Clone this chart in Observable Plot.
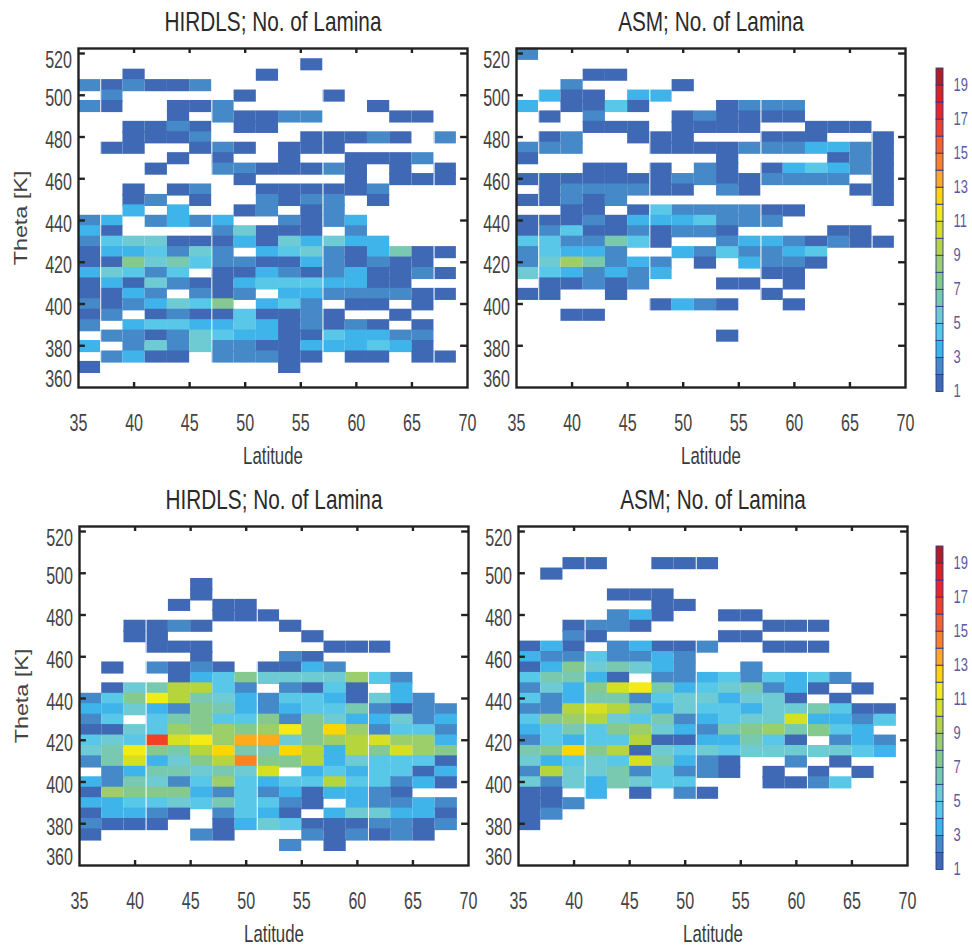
<!DOCTYPE html>
<html>
<head>
<meta charset="utf-8">
<script src="https://cdn.jsdelivr.net/npm/d3@7"></script>
<script src="https://cdn.jsdelivr.net/npm/@observablehq/plot@0.6"></script>
<style>
html,body{margin:0;padding:0;background:#fff;}
#chart{position:relative;width:972px;height:947px;overflow:hidden;}
#chart svg{position:absolute;overflow:visible;}
</style>
</head>
<body>
<div id="chart"></div>
<script>
const levels = [1,2,3,4,5,6,7,8,9,10,11,12,13,14,15,16,17,18,19];
const palette = ["#3f69b4","#4689c8","#3fb4ea","#58c7e8","#6fcbd3","#78c9b0","#86c98e","#9ccf6a","#b6d43c","#d6df22","#f5eb14","#ffd500","#fdaa1c","#f7841f","#f36523","#f24024","#ee2326","#e01e26","#ae1f24"];
const latStarts = [35,37,39,41,43,45,47,49,51,53,55,57,59,61,63,65,67];
const thetas = [520,515,510,505,500,495,490,485,480,475,470,465,460,455,450,445,440,435,430,425,420,415,410,405,400,395,390,385,380,375,370];
const xTicks = [35,40,45,50,55,60,65,70];
const yTicks = [380,400,420,440,460,480,500];
const barLabels = [1,3,5,7,9,11,13,15,17,19];

const hirdlsUpper = [
[0,0,0,0,0,0,0,0,0,0,0,0,0,0,0,0,0],
[0,0,0,0,0,0,0,0,0,0,1,0,0,0,0,0,0],
[0,0,1,0,0,0,0,0,1,0,0,0,0,0,0,0,0],
[2,1,2,1,1,2,0,0,0,0,0,0,0,0,0,0,0],
[0,2,0,0,0,0,0,1,0,0,0,1,0,0,0,0,0],
[2,1,0,0,1,1,2,0,0,0,0,0,0,1,0,0,0],
[0,0,0,0,1,0,2,1,1,2,2,0,0,0,1,1,0],
[0,0,1,1,2,1,0,1,1,0,0,0,0,0,0,0,0],
[0,0,1,1,1,2,0,0,0,0,1,1,1,2,1,0,2],
[0,1,1,0,0,1,2,1,0,1,1,1,0,0,0,0,0],
[0,0,0,0,1,0,1,0,0,1,0,0,1,1,1,2,0],
[0,0,0,1,0,0,2,2,1,1,1,2,1,0,1,0,1],
[0,0,0,0,0,0,0,1,0,0,0,0,1,0,1,1,1],
[0,0,1,0,1,2,0,0,1,1,1,1,1,2,0,0,0],
[0,0,1,2,0,1,0,0,2,1,2,2,0,1,0,0,0],
[0,0,3,0,3,0,0,1,2,0,1,2,0,0,0,0,0],
[2,3,0,2,3,2,3,0,0,2,1,2,3,0,0,0,0],
[3,1,0,0,0,0,2,5,1,1,1,0,2,0,0,0,0],
[2,4,5,5,1,1,1,3,1,5,3,5,3,3,0,0,0],
[1,3,3,4,2,5,2,0,3,4,5,2,1,3,6,1,1],
[1,1,7,5,6,4,2,2,1,1,3,2,1,2,1,1,0],
[3,5,4,2,4,0,1,1,3,2,1,2,3,1,1,2,1],
[1,3,1,5,2,1,1,3,4,4,4,3,3,1,1,0,0],
[1,1,3,2,0,2,1,2,0,3,3,2,2,2,2,1,1],
[2,1,2,3,5,4,7,0,3,4,2,0,1,1,0,1,0],
[1,2,0,1,2,1,1,4,1,1,2,1,0,0,1,0,0],
[2,0,3,4,4,3,3,4,3,1,2,1,2,1,0,1,0],
[0,2,2,1,2,5,4,3,3,1,1,4,3,3,2,2,0],
[3,0,2,5,2,5,2,2,1,1,3,3,3,4,3,1,0],
[0,2,3,1,1,0,2,2,2,1,1,0,1,1,0,1,1],
[1,0,0,0,0,0,0,0,0,1,0,0,0,0,0,0,0]
];

const asmUpper = [
[2,0,0,0,0,0,0,0,0,0,0,0,0,0,0,0,0],
[0,0,0,0,0,0,0,0,0,0,0,0,0,0,0,0,0],
[0,0,0,1,1,0,0,0,0,0,0,0,0,0,0,0,0],
[0,0,2,0,0,0,0,1,0,0,0,0,0,0,0,0,0],
[0,3,1,1,0,3,3,0,0,0,0,0,0,0,0,0,0],
[3,0,1,1,4,1,0,0,0,1,2,2,2,0,0,0,0],
[0,1,0,2,0,0,0,1,2,1,1,1,1,0,0,0,0],
[0,0,0,1,1,1,0,1,1,1,1,0,0,1,1,1,0],
[0,1,2,0,0,1,1,1,0,0,0,1,1,1,0,0,1],
[2,2,2,0,0,0,1,1,1,1,2,2,2,3,3,2,1],
[1,0,0,0,0,0,0,0,0,1,0,0,0,0,1,2,1],
[0,0,0,1,1,0,1,0,2,1,0,1,3,4,3,2,1],
[1,1,1,1,1,1,1,2,2,1,1,2,2,2,2,0,1],
[0,1,2,2,2,2,1,1,0,2,1,0,0,0,0,1,1],
[1,1,2,1,2,0,0,0,0,0,0,0,0,0,0,0,1],
[0,0,1,1,0,1,4,2,2,2,2,1,1,0,0,0,0],
[1,1,1,2,1,3,3,3,4,2,2,2,0,0,0,0,0],
[1,2,4,1,1,2,1,2,2,1,0,0,0,0,1,1,0],
[4,4,2,2,6,4,1,0,0,2,3,3,2,1,2,1,1],
[2,4,3,3,2,0,0,3,2,4,2,2,3,4,0,0,0],
[2,5,8,6,2,3,2,0,1,0,3,2,2,1,0,0,0],
[5,4,3,2,3,2,3,0,0,0,0,1,1,0,0,0,0],
[0,1,1,2,1,2,0,0,0,1,1,0,1,0,0,0,0],
[1,1,0,0,1,0,0,0,0,0,0,1,0,0,0,0,0],
[0,0,0,0,0,0,1,3,2,1,0,0,1,0,0,0,0],
[0,0,1,1,0,0,0,0,0,0,0,0,0,0,0,0,0],
[0,0,0,0,0,0,0,0,0,0,0,0,0,0,0,0,0],
[0,0,0,0,0,0,0,0,0,1,0,0,0,0,0,0,0],
[0,0,0,0,0,0,0,0,0,0,0,0,0,0,0,0,0],
[0,0,0,0,0,0,0,0,0,0,0,0,0,0,0,0,0],
[0,0,0,0,0,0,0,0,0,0,0,0,0,0,0,0,0]
];

const hirdlsLower = [
[0,0,0,0,0,0,0,0,0,0,0,0,0,0,0,0,0],
[0,0,0,0,0,0,0,0,0,0,0,0,0,0,0,0,0],
[0,0,0,0,0,0,0,0,0,0,0,0,0,0,0,0,0],
[0,0,0,0,0,0,0,0,0,0,0,0,0,0,0,0,0],
[0,0,0,0,0,0,0,0,0,0,0,0,0,0,0,0,0],
[0,0,0,0,0,1,0,0,0,0,0,0,0,0,0,0,0],
[0,0,0,0,0,1,0,0,0,0,0,0,0,0,0,0,0],
[0,0,0,0,1,0,1,1,0,0,0,0,0,0,0,0,0],
[0,0,0,0,0,0,1,1,1,0,0,0,0,0,0,0,0],
[0,0,1,1,2,1,0,0,0,1,0,0,0,0,0,0,0],
[0,0,1,1,0,0,0,0,0,0,1,0,0,0,0,0,0],
[0,0,0,1,1,1,0,0,0,0,0,1,1,1,0,0,0],
[0,0,0,0,0,1,0,0,0,2,1,0,0,0,0,0,0],
[0,1,0,2,1,2,1,0,1,1,3,2,0,0,0,0,0],
[0,0,0,0,1,3,4,7,5,5,5,5,8,4,2,0,0],
[0,1,5,6,9,9,4,2,0,2,1,4,1,0,3,0,0],
[2,4,7,11,9,6,5,3,2,4,4,3,1,5,3,2,0],
[3,3,5,3,2,7,6,3,2,3,4,4,6,2,1,2,2],
[2,4,0,4,6,7,4,4,7,2,7,5,3,3,5,2,3],
[1,1,5,4,8,7,8,7,8,11,7,12,8,2,4,4,2],
[4,5,4,16,10,11,8,13,13,5,7,8,9,10,8,8,3],
[5,6,11,7,6,9,12,6,6,12,9,3,9,7,10,8,7],
[2,6,10,3,5,7,9,14,7,7,9,3,5,4,4,4,1],
[0,2,3,6,6,5,6,5,10,0,3,4,3,4,4,1,3],
[3,2,6,5,2,4,8,4,3,4,4,9,4,4,2,3,1],
[1,8,7,7,7,3,2,4,2,3,1,3,3,2,1,0,0],
[3,3,4,4,5,4,6,4,4,2,1,0,3,2,2,3,2],
[1,3,3,2,1,0,2,4,3,1,0,3,5,5,3,3,1],
[2,1,1,1,0,0,1,3,5,4,1,1,1,2,2,1,2],
[1,0,0,0,0,2,1,0,0,0,2,1,2,1,2,1,0],
[0,0,0,0,0,0,0,0,0,2,0,1,0,0,0,0,0]
];

const asmLower = [
[0,0,0,0,0,0,0,0,0,0,0,0,0,0,0,0,0],
[0,0,0,0,0,0,0,0,0,0,0,0,0,0,0,0,0],
[0,0,0,0,0,0,0,0,0,0,0,0,0,0,0,0,0],
[0,0,1,1,0,0,1,1,1,0,0,0,0,0,0,0,0],
[0,1,0,0,0,0,0,0,0,0,0,0,0,0,0,0,0],
[0,0,0,0,0,0,0,0,0,0,0,0,0,0,0,0,0],
[0,0,0,0,1,1,1,0,0,0,0,0,0,0,0,0,0],
[0,0,0,0,0,0,1,1,0,0,0,0,0,0,0,0,0],
[0,0,0,0,2,3,1,0,0,1,1,0,0,0,0,0,0],
[0,0,1,2,2,1,0,0,0,0,0,1,1,1,0,0,0],
[0,0,2,1,0,0,0,0,0,1,1,0,0,0,0,0,0],
[1,3,1,0,2,3,1,1,2,0,0,1,1,1,0,0,0],
[3,2,2,4,2,2,3,2,0,0,0,0,0,0,0,0,0],
[1,3,7,5,6,5,3,2,0,0,2,0,0,0,0,0,0],
[4,6,6,3,1,0,2,2,3,4,2,4,3,4,2,0,0],
[2,5,3,7,10,11,6,3,4,5,6,2,3,1,0,1,0],
[4,2,3,6,6,2,4,5,5,3,5,5,1,0,1,0,0],
[2,2,9,10,9,6,3,5,4,4,3,5,5,6,4,1,1],
[4,7,8,9,5,4,6,2,3,4,5,5,10,3,3,2,4],
[3,4,6,4,7,8,5,3,2,6,7,8,6,7,4,3,0],
[2,4,3,4,4,9,1,1,3,3,6,4,1,0,2,3,2],
[6,7,12,7,9,1,5,4,5,4,5,5,5,5,5,4,3],
[5,3,4,5,4,10,6,3,2,1,0,0,2,0,1,0,0],
[2,9,5,5,6,2,4,2,2,1,0,1,0,1,0,1,0],
[5,2,5,3,6,5,4,4,0,0,0,1,1,2,4,0,0],
[1,1,0,3,0,1,0,2,1,0,0,0,0,0,0,0,0],
[1,1,2,0,0,0,0,0,0,0,0,0,0,0,0,0,0],
[1,2,0,0,0,0,0,0,0,0,0,0,0,0,0,0,0],
[1,0,0,0,0,0,0,0,0,0,0,0,0,0,0,0,0],
[0,0,0,0,0,0,0,0,0,0,0,0,0,0,0,0,0],
[0,0,0,0,0,0,0,0,0,0,0,0,0,0,0,0,0]
];

const panels = [
  {title:"HIRDLS; No. of Lamina", rows:hirdlsUpper, seams:[37,47,57,67], left:77.5, top:48, yLabel:true},
  {title:"ASM; No. of Lamina", rows:asmUpper, seams:[37,47,57,67], left:516, top:48, yLabel:false},
  {title:"HIRDLS; No. of Lamina", rows:hirdlsLower, seams:[41,51,61], left:79, top:526, yLabel:true},
  {title:"ASM; No. of Lamina", rows:asmLower, seams:[41,51,61], left:518, top:526, yLabel:false}
];

const FONT = "'Liberation Sans',sans-serif";
const root = document.getElementById("chart");
const mL = 78, mT = 48, W = 389, H = 339, mB = 85, mR = 20;
const yTop = 522.4, tickLat = 0.62, tickTheta = 2.4;

function place(svg, left, top){
  svg.style.left = left + "px";
  svg.style.top = top + "px";
  root.appendChild(svg);
}

for (const p of panels) {
  const cells = [];
  p.rows.forEach((row, r) => row.forEach((v, c) => {
    if (v > 0) cells.push({x1:latStarts[c], x2:latStarts[c]+2, y1:thetas[r]-3.3, y2:thetas[r]+2.5, v});
  }));
  const tick = {stroke:"#222", strokeWidth:2.4};
  const labelStyle = {tickSize:0, fontSize:23, fill:"#444", label:null};
  const inner = xTicks.slice(1,-1);
  const sideTicks = [...yTicks, 520];
  const svg = Plot.plot({
    width: mL+W+mR, height: mT+H+mB,
    marginLeft: mL, marginRight: mR, marginTop: mT, marginBottom: mB,
    style: {background:"transparent", fontFamily:FONT},
    x: {domain:[35,70], label:null, axis:null},
    y: {domain:[360,yTop], label:null, axis:null},
    color: {type:"ordinal", domain:levels, range:palette},
    marks: [
      Plot.rect(cells, {x1:"x1", x2:"x2", y1:"y1", y2:"y2", fill:"v", inset:0}),
      Plot.ruleX(p.seams, {stroke:"white", strokeWidth:0.9}),
      Plot.ruleX(inner, {y1:360, y2:360+tickTheta, ...tick}),
      Plot.ruleX(inner, {y1:yTop-tickTheta, y2:yTop, ...tick}),
      Plot.ruleY(sideTicks, {x1:35, x2:35+tickLat, ...tick}),
      Plot.ruleY(sideTicks, {x1:70-tickLat, x2:70, ...tick}),
      Plot.axisX(xTicks, {anchor:"bottom", tickPadding:27, ...labelStyle}),
      Plot.axisY(yTicks, {anchor:"left", tickPadding:6.5, dy:3.7, ...labelStyle}),
      Plot.axisY([520], {anchor:"left", tickPadding:6.5, dy:6.8, ...labelStyle}),
      Plot.axisY([360], {anchor:"left", tickPadding:6.5, dy:-7.5, ...labelStyle}),
      Plot.frame({stroke:"#222", strokeWidth:2.4}),
      Plot.text([p.title], {frameAnchor:"top", dy:-26, fontSize:27.5, fill:"#2a2a2a", lineAnchor:"middle"}),
      Plot.text(["Latitude"], {frameAnchor:"bottom", dy:69, fontSize:24, fill:"#3a3a3a", lineAnchor:"middle"}),
      p.yLabel ? Plot.text(["Theta [K]"], {frameAnchor:"left", dx:-57.5, rotate:-90, textAnchor:"middle", fontSize:19, fill:"#444", lineAnchor:"middle"}) : null
    ]
  });
  // The reference's lettering is condensed: squeeze each label about its own anchor.
  svg.querySelectorAll("text").forEach(t => {
    const tr = t.getAttribute("transform") || "";
    const fs = t.parentNode.getAttribute("font-size") || "";
    const s = tr.includes("rotate") ? 1.23 : fs === "27.5" ? 0.755 : 0.7;
    t.setAttribute("transform", tr + ` scale(${s},1)`);
  });
  place(svg, p.left-mL, p.top-mT);
}

const barCells = levels.map(k => ({k, y1:k, y2:k+1}));
for (const top of [67.5, 545.8]) {
  const svg = Plot.plot({
    width: 46, height: 323.5+20,
    marginLeft: 6, marginRight: 33, marginTop: 10, marginBottom: 10,
    style: {background:"transparent", fontFamily:FONT},
    x: {domain:[0,1], axis:null},
    y: {domain:[1,20], axis:null},
    color: {type:"ordinal", domain:levels, range:palette},
    marks: [
      Plot.rect(barCells, {x1:0, x2:1, y1:"y1", y2:"y2", fill:"k", stroke:"#2d3a85", strokeWidth:0.9}),
      Plot.axisY(barLabels, {anchor:"right", tickSize:0, tickPadding:10, dy:-1, fontSize:19, fill:"#5a5a9e", label:null})
    ]
  });
  svg.querySelectorAll("text").forEach(t => {
    t.setAttribute("transform", (t.getAttribute("transform") || "") + " scale(0.68,1)");
  });
  place(svg, 930, top-10);
}
</script>
</body>
</html>
